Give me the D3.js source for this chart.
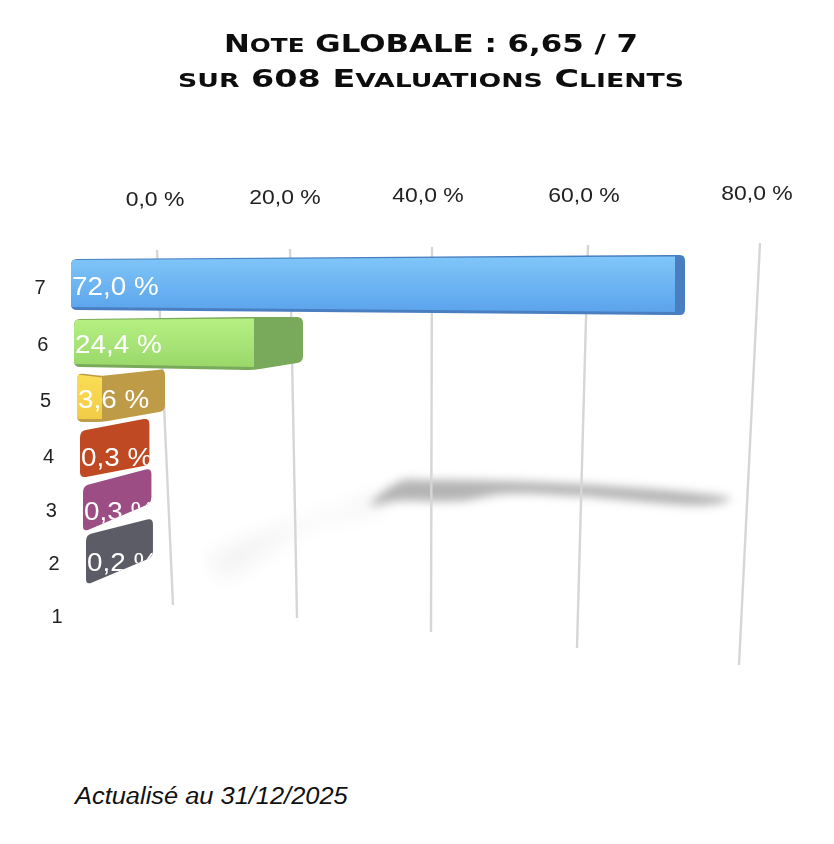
<!DOCTYPE html>
<html><head><meta charset="utf-8">
<script src="https://cdn.jsdelivr.net/npm/d3@7"></script>
<style>html,body{margin:0;padding:0;background:#fff}svg{display:block}</style>
</head><body><div id="c"></div>
<script>
const titleLines = ["Note GLOBALE : 6,65 / 7", "sur 608 Evaluations Clients"];
const footer = "Actualisé au 31/12/2025";
const categories = ["7","6","5","4","3","2","1"];
const values = [72.0,24.4,3.6,0.3,0.3,0.2,0];
const valueLabels = ["72,0 %","24,4 %","3,6 %","0,3 %","0,3 %","0,2 %",""];
const tickValues = [0,20,40,60,80];
const tickLabels = ["0,0 %","20,0 %","40,0 %","60,0 %","80,0 %"];
const faceTop = ["#7FC6F9","#B6F083","#FBDD55","#C84E24","#A0548A","#5E5E68"];
const faceBottom = ["#5BA3EC","#9AD86A","#F2CC48","#BC4720","#96497F","#585862"];
const capColors = ["#4A7FC0","#79A95A","#BE9B47","#BF4A22","#9B4E84","#5C5C66"];

const W=834,H=844;
const svg=d3.select("#c").append("svg").attr("width",W).attr("height",H);
const defs=svg.append("defs");
const soft=defs.append("filter").attr("id","soft").attr("x","-20%").attr("y","-20%").attr("width","140%").attr("height","140%");
soft.append("feGaussianBlur").attr("stdDeviation",0.55);
const smear=defs.append("filter").attr("id","smear").attr("x","-30%").attr("y","-100%").attr("width","160%").attr("height","300%");
smear.append("feGaussianBlur").attr("stdDeviation",5);
const smearWide=defs.append("filter").attr("id","smearWide").attr("x","-30%").attr("y","-50%").attr("width","160%").attr("height","200%");
smearWide.append("feGaussianBlur").attr("stdDeviation",10);

// Perspective axis: value -> position on the far and near end of each gridline
const gridTopX=d3.scaleLinear().domain(tickValues).range([157,290,432,588,760]);
const gridBotX=d3.scaleLinear().domain(tickValues).range([173,297,431,577,739]);
const gridTopY=d3.scaleLinear().domain(tickValues).range([250,249,247,245,243]);
const gridBotY=d3.scaleLinear().domain(tickValues).range([605,618,632,648,665]);
const tickX=d3.scaleLinear().domain(tickValues).range([155,285,428,584,757]);
const tickY=d3.scaleLinear().domain(tickValues).range([201,199,197,197,195]);

// Row scales: rank of the category -> geometry of its bar
const ranks=d3.range(6);
const catY=d3.scaleLinear().domain(d3.range(7)).range([289,346,402,458,512,565,618]);
const catX=d3.scaleLinear().domain([0,6]).range([40,57]);
const frontLeft=d3.scaleLinear().domain([0,5]).range([71,86]);
const frontLen=d3.scaleLinear().domain([0,0.3,3.6,24.4,72]).range([0,2,25,180,604]);
const backRight=d3.scaleLinear().domain([0,3.6,24.4,72]).range([148,165,303,685]);
const backShift=d3.scaleLinear().domain([3,5]).range([0,4]).clamp(true);
const yTL=d3.scaleLinear().domain(ranks).range([259,319,373,431,486,535]);
const yTF=d3.scaleLinear().domain(ranks).range([255,317,376,431,486,535]);
const yTR=d3.scaleLinear().domain(ranks).range([255,317,369,418,468,518]);
const yBR=d3.scaleLinear().domain(ranks).range([315,362,411,465,503,557]);
const yBF=d3.scaleLinear().domain(ranks).range([315,370,422,478,532,585]);
const yBL=d3.scaleLinear().domain(ranks).range([310,367,422,478,532,585]);

// Floor shadow, placed along the value axis
const shadowX=gridBotX;
const shadowCore=[[35.5,481],[40,480],[60,484],[79,499],[76,505],[60,496],[50,494],[44,501],[35,501],[31,505]];
const shadowFaint=[[28,505],[33,494],[33,506],[22,525],[8,576],[6,560]];
const area=d3.line().x(d=>shadowX(d[0])).y(d=>d[1]).curve(d3.curveCatmullRomClosed);
svg.append("path").attr("d",area(shadowFaint)).attr("fill","#f3f3f3").attr("filter","url(#smearWide)");
svg.append("path").attr("d",area(shadowCore)).attr("fill","#b4b4b4").attr("filter","url(#smear)");

// Gridlines
const gGrid=svg.append("g").attr("filter","url(#soft)");
gGrid.selectAll("line").data(tickValues).join("line")
  .attr("x1",gridTopX).attr("y1",gridTopY).attr("x2",gridBotX).attr("y2",gridBotY)
  .attr("stroke","#d6d6d6").attr("stroke-width",2.4);

// Bars
const bars=values.map((v,i)=>({v,i,label:valueLabels[i]})).filter(d=>d.v>0).map(d=>{
  const x0=frontLeft(d.i), x1=x0+frontLen(d.v), x2=backRight(d.v)+backShift(d.i);
  return {...d,x0,x1,x2,
    TL:[x0,yTL(d.i)],TF:[x1,yTF(d.i)],TR:[x2,yTR(d.i)],
    BR:[x2,yBR(d.i)],BF:[x1,yBF(d.i)],BL:[x0,yBL(d.i)]};
});
// Rounded silhouette: corners are cut and replaced by a quadratic curve
function roundPoly(pts,r){
  const n=pts.length; let s="";
  pts.forEach((p,i)=>{
    const a=pts[(i+n-1)%n], b=pts[(i+1)%n];
    const toward=(q)=>{const dx=q[0]-p[0],dy=q[1]-p[1],l=Math.hypot(dx,dy),k=Math.min(r,l/2)/l;return [p[0]+dx*k,p[1]+dy*k];};
    const p1=toward(a),p2=toward(b);
    s+=(i?"L":"M")+p1.join(",")+"Q"+p.join(",")+" "+p2.join(",");
  });
  return s+"Z";
}
const outline=d=>{
  const o=[d.TL];
  if(d.v>1) o.push(d.TF);
  o.push(d.TR,d.BR);
  if(d.v>1) o.push(d.BF);
  o.push(d.BL);
  return o;
};
const poly=pts=>"M"+pts.map(p=>p.join(",")).join("L")+"Z";
bars.forEach(b=>{
  const g=defs.append("linearGradient").attr("id","g"+b.i).attr("x1",0).attr("x2",0).attr("y1",0).attr("y2",1);
  g.append("stop").attr("offset",0).attr("stop-color",faceTop[b.i]);
  g.append("stop").attr("offset",1).attr("stop-color",faceBottom[b.i]);
  defs.append("clipPath").attr("id","clip"+b.i).append("path").attr("d",roundPoly(outline(b),6));
});
const gBars=svg.append("g").attr("filter","url(#soft)");
const bar=gBars.selectAll("g").data(bars).join("g");
bar.append("path").attr("d",d=>roundPoly(outline(d),6)).attr("fill",d=>capColors[d.i]);
bar.filter(d=>d.v>1).append("g").attr("clip-path",d=>`url(#clip${d.i})`).append("path")
  .attr("d",d=>poly([[d.x0-4,d.TL[1]+1],[d.x1,d.TF[1]+1.5],[d.x1,d.BF[1]-3],[d.x0-4,d.BL[1]-3]]))
  .attr("fill",d=>`url(#g${d.i})`);

// Text whose width is stretched to the wider face used in the picture
const stretch=(sel,k)=>sel.each(function(){
  const len=this.getComputedTextLength();
  d3.select(this).attr("textLength",len*k).attr("lengthAdjust","spacingAndGlyphs");
});

// Value labels, clipped by their bar
const gVals=svg.append("g").attr("filter","url(#soft)");
gVals.selectAll("g").data(bars).join("g").attr("clip-path",d=>`url(#clip${d.i})`)
  .append("text").attr("x",d=>d.x0+1).attr("y",d=>(d.BL[1]+d.TL[1])/2+(d.i>2?11:10))
  .attr("fill","#fff").attr("font-family","Liberation Sans").attr("font-size",26)
  .text(d=>d.label).call(stretch,1.07);

// Tick labels
const gText=svg.append("g").attr("filter","url(#soft)");
gText.selectAll("text.tick").data(tickValues).join("text").attr("class","tick")
  .attr("x",tickX).attr("y",tickY).attr("text-anchor","middle").attr("dominant-baseline","middle")
  .attr("font-family","Liberation Sans").attr("font-size",20.5).attr("fill","#222")
  .text((d,i)=>tickLabels[i]).call(stretch,1.12);
// Category labels
gText.selectAll("text.cat").data(categories).join("text").attr("class","cat")
  .attr("x",(d,i)=>catX(i)).attr("y",(d,i)=>catY(i)).attr("text-anchor","middle").attr("dominant-baseline","middle")
  .attr("font-family","Liberation Sans").attr("font-size",20).attr("fill","#222")
  .text(d=>d);

// Title: capitals and digits at full size, lowercase rendered as larger small capitals
const gTitle=svg.append("g").attr("filter","url(#soft)");
const titleText=gTitle.selectAll("text").data(titleLines).join("text")
  .attr("x",(d,i)=>[224,178][i]).attr("y",(d,i)=>[52,87][i])
  .attr("textLength",(d,i)=>[414,506][i]).attr("lengthAdjust","spacingAndGlyphs")
  .attr("font-family","DejaVu Sans").attr("font-weight","bold")
  .style("font-variant","small-caps").attr("fill","#111");
titleText.selectAll("tspan").data(d=>d.match(/[a-zé]+|[^a-zé]+/g)).join("tspan")
  .attr("font-size",d=>/[a-z]/.test(d)?28:25).text(d=>d);

// Footer
svg.append("text").attr("x",75).attr("y",804).attr("font-family","Liberation Sans")
  .attr("font-style","italic").attr("font-size",23).attr("fill","#111").text(footer).call(stretch,1.105);
</script></body></html>
